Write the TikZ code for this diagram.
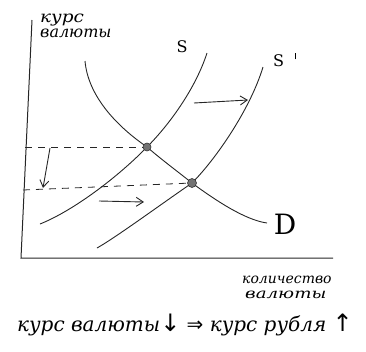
\documentclass[tikz,border=0pt]{standalone}
\usepackage{fontspec}
\usepackage{graphicx}
\setmainfont{DejaVu Serif}
\newfontfamily\symfont{DejaVu Sans}
\usetikzlibrary{arrows.meta}
\begin{document}
\begin{tikzpicture}[x=1pt,y=-1pt,
  curve/.style={line width=0.9pt, draw=black!85},
  axis/.style={line width=1pt, draw=black!85},
  guide/.style={line width=0.8pt, draw=black!85, dash pattern=on 7pt off 6pt},
  movearrow/.style={line width=0.9pt, draw=black!85, -{Straight Barb[length=7pt,width=9pt]}},
  eq/.style={circle, fill=black!55, draw=black!80, line width=0.6pt, inner sep=0pt, minimum size=8pt},
  lbl/.style={font=\fontsize{16}{16}\selectfont, inner sep=0pt},
  axlbl/.style={font=\itshape\fontsize{16}{16}\selectfont, inner sep=0pt, anchor=base west}]
\useasboundingbox (0,0) rectangle (366,351);
% axes
\coordinate (ytop) at (32,20);
\coordinate (O) at (21,258);
\coordinate (xend) at (333,258);
\draw[axis] (ytop) -- (O) -- (xend);
% equilibrium points
\coordinate (E1) at (147,147);
\coordinate (E2) at (192,183);
% supply S
\draw[curve] (40,224) .. controls (75,210) and (120,175) .. (E1)
                      .. controls (168,126) and (195,90) .. (207,53);
% supply S'
\draw[curve] (97,248) .. controls (115,238) and (160,205) .. (E2)
                      .. controls (215,160) and (250,110) .. (263,67);
% demand D
\draw[curve] (85,61) .. controls (88,95) and (115,125) .. (E1)
                     .. controls (162,160) and (177,171) .. (E2)
                     .. controls (215,200) and (245,220) .. (267,223);
% dashed guides
\coordinate (Y1) at (25,147);
\coordinate (Y2) at (23,190);
\draw[guide] (Y1) -- (E1);
\draw[guide] (Y2) -- (E2);
\node[eq] (e1) at (E1) {};
\node[eq, minimum size=9pt] (e2) at (E2) {};
% shift arrows
\coordinate (d1) at (50,148);
\coordinate (d2) at (43,188);
\draw[movearrow] (d1) -- (d2);
\coordinate (r1) at (99,201);
\coordinate (r2) at (144,202);
\draw[movearrow] (r1) -- (r2);
\coordinate (t1) at (194,103);
\coordinate (t2) at (248,100);
\draw[movearrow] (t1) -- (t2);
% labels
\node[lbl] (S) at (182,47) {S};
\node[lbl, anchor=west] (S2) at (273,60) {S\hspace*{11pt}\raisebox{7pt}{\rule{0.9pt}{6pt}}};
\node[lbl, font=\fontsize{28}{28}\selectfont] (D) at (285,224) {D};
\node[axlbl] (ylab1) at (40,22) {\scalebox{1.15}[1]{курс}};
\node[axlbl] (ylab2) at (40,37) {валюты};
\node[axlbl, font=\itshape\fontsize{14}{14}\selectfont] (xlab1) at (242,283) {количество};
\node[axlbl, font=\itshape\fontsize{14}{14}\selectfont] (xlab2) at (245,298) {\scalebox{1.3}[1]{валюты}};
\node[font=\itshape\fontsize{20}{20}\selectfont, inner sep=0pt, anchor=base] (concl) at (185,331) {курс валюты{\symfont\fontsize{24}{24}\selectfont↓} {\symfont⇒} курс рубля {\symfont\fontsize{24}{24}\selectfont↑}};
\end{tikzpicture}
\end{document}
